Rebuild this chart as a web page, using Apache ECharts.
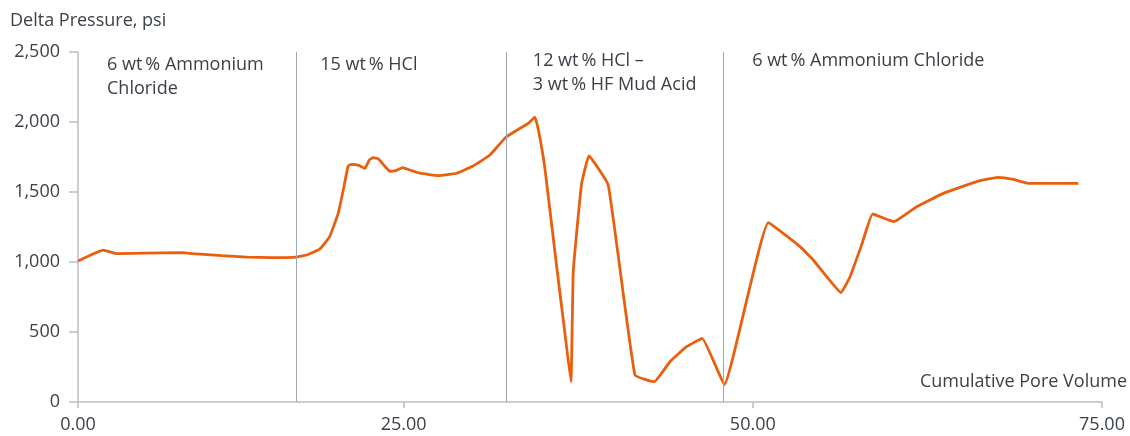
<!DOCTYPE html>
<html><head><meta charset="utf-8">
<script src="https://cdn.jsdelivr.net/npm/echarts@6/dist/echarts.min.js"></script>
<style>html,body{margin:0;padding:0;background:#fff}#c{width:1130px;height:436px}</style>
</head><body><div id="c"></div>
<script>
// Cumulative pore volume (x) and delta pressure in psi (y)
const poreVolume = [1.69,3.49,4.49,6.5,9.2,9.9,12.0,13.8,15.5,17.1,18.05,19.0,19.7,20.32,20.68,21.03,21.28,21.8,22.23,22.55,22.82,23.18,23.6,24.02,24.5,24.93,25.5,26.17,27.48,28.8,29.98,31.18,32.32,33.33,33.92,34.4,34.65,35.1,35.96,36.55,36.98,37.14,37.43,37.75,38.27,39.65,41.56,42.94,44.07,45.26,46.38,47.96,51.11,53.38,54.33,55.29,56.31,56.96,57.79,58.58,60.11,61.73,63.64,66.03,67.58,68.65,69.72,73.3];
const deltaPressure = [1007,1085,1060,1064,1067,1060,1045,1035,1031,1033,1050,1093,1180,1348,1514,1686,1698,1690,1669,1730,1745,1738,1690,1648,1655,1674,1655,1634,1617,1634,1686,1764,1891,1955,1990,2035,1943,1681,966,491,145,919,1252,1562,1757,1550,193,145,288,395,455,125,1281,1110,1014,895,781,895,1121,1343,1288,1395,1490,1574,1605,1590,1562,1562];
const stageBounds = [1.69, 17.31, 32.32, 47.88, 75];
const stageNames = ['6 wt\u2009% Ammonium\nChloride', '15 wt\u2009% HCl', '12 wt\u2009% HCl \u2013\n3 wt\u2009% HF Mud Acid', '6 wt\u2009% Ammonium Chloride'];
const xTickValues = [1.69, 25, 50, 75];
const xTickLabels = ['0.00', '25.00', '50.00', '75.00'];

const FONT = 'Open Sans';
const FS = 18;
const TXT = '#3b4148';
const AXIS = '#b7bfc7';
const DIV = '#9ea8b2';

const stageLabelOffset = [[24,-4],[19,-4],[22,-8],[24,-8]];

const chart = echarts.init(document.getElementById('c'), null, {renderer: 'canvas'});
chart.setOption({
  animation: false,
  textStyle: {fontFamily: FONT},
  title: {text: 'Delta Pressure, psi', left: 5, top: 7,
    textStyle: {fontFamily: FONT, fontSize: FS, fontWeight: 'normal', color: TXT}},
  grid: {left: 78, right: 28, top: 52, bottom: 34, containLabel: false},
  xAxis: {
    type: 'value', min: stageBounds[0], max: 75,
    name: 'Cumulative Pore Volume', nameLocation: 'end', nameGap: 25,
    nameTextStyle: {fontFamily: FONT, fontSize: FS, color: TXT, align: 'right', verticalAlign: 'bottom', padding: [0,0,11,0]},
    axisLine: {lineStyle: {color: AXIS, width: 1.5}},
    axisTick: {show: true, length: 6, lineStyle: {color: AXIS, width: 1.5}, customValues: xTickValues},
    axisLabel: {customValues: xTickValues, margin: 14, fontFamily: FONT, fontSize: FS, color: TXT,
      formatter: function (v) {
        let best = 0;
        xTickValues.forEach((t, i) => { if (Math.abs(t - v) < Math.abs(xTickValues[best] - v)) best = i; });
        return xTickLabels[best];
      }},
    splitLine: {show: false}
  },
  yAxis: {
    type: 'value', min: 0, max: 2500, interval: 500,
    axisLine: {show: true, lineStyle: {color: AXIS, width: 1.5}},
    axisTick: {show: true, length: 9, lineStyle: {color: AXIS, width: 1.5}},
    axisLabel: {margin: 18, fontFamily: FONT, fontSize: FS, color: TXT,
      formatter: v => v.toLocaleString('en-US')},
    splitLine: {show: false}
  },
  series: [{
    type: 'line',
    data: poreVolume.map((x, i) => [x, deltaPressure[i]]),
    showSymbol: false,
    smooth: 0.1,
    clip: false,
    lineStyle: {color: '#ea5f0e', width: 2.8},
    z: 3,
    markLine: {
      silent: true, symbol: 'none', animation: false,
      lineStyle: {color: DIV, width: 1, type: 'solid'},
      label: {show: false},
      data: stageBounds.slice(1, 4).map(v => ({xAxis: v}))
    },
    markArea: {
      silent: true,
      itemStyle: {color: 'rgba(0,0,0,0)'},
      label: {show: true, position: 'insideTopLeft', distance: 5, fontFamily: FONT, fontSize: FS, lineHeight: 24, color: TXT},
      data: stageNames.map((n, i) => [
        {xAxis: stageBounds[i], yAxis: 2500, name: n, label: {offset: stageLabelOffset[i]}},
        {xAxis: stageBounds[i + 1], yAxis: 0}
      ])
    }
  }]
});
</script></body></html>
